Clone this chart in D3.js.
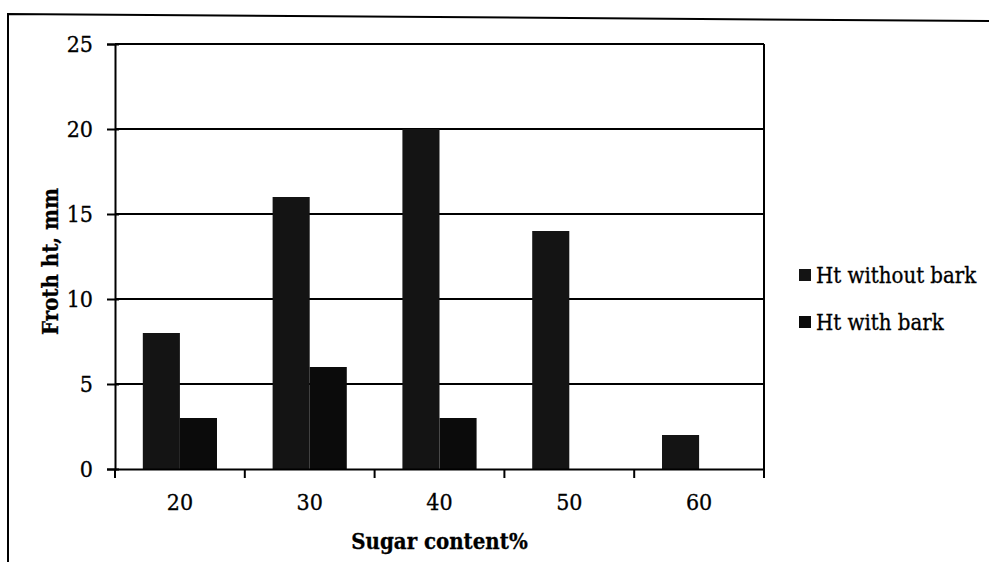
<!DOCTYPE html>
<html>
<head>
<meta charset="utf-8">
<script src="https://cdn.jsdelivr.net/npm/d3@7"></script>
<style>
  body { margin: 0; background: #fff; }
  svg { display: block; }
  svg text { font-family: "DejaVu Serif", serif; font-stretch: condensed; fill: #000; stroke: #000; stroke-width: 0.3px; }
</style>
</head>
<body>
<div id="chart"></div>
<script>
const categories = ['20', '30', '40', '50', '60'];
const seriesNames = ['Ht without bark', 'Ht with bark'];
const withoutBark = [8, 16, 20, 14, 2];
const withBark = [3, 6, 3, 0, 0];
const yTicks = [0, 5, 10, 15, 20, 25];

const width = 989;
const height = 562;
const plot = { left: 115, right: 764, top: 44, bottom: 469 };
const colors = ['#141414', '#0b0b0b'];
const serif = '"DejaVu Serif", serif';

const svg = d3.select('#chart')
  .append('svg')
  .attr('width', width)
  .attr('height', height);

// outer chart frame (scan is slightly tilted)
svg.append('path')
  .attr('d', 'M8,600 L8,14 L989,21')
  .style('fill', 'none')
  .style('stroke', '#000')
  .style('stroke-width', 2);

const x = d3.scaleBand()
  .domain(categories)
  .range([plot.left, plot.right]);

const x1 = d3.scaleBand()
  .domain(seriesNames)
  .range([0, x.bandwidth()])
  .paddingOuter(0.75);

const y = d3.scaleLinear()
  .domain([0, 25])
  .range([plot.bottom, plot.top]);

const g = svg.append('g');

// gridlines
g.selectAll('.grid')
  .data(yTicks.filter(d => d > 0))
  .enter().append('line')
  .attr('class', 'grid')
  .attr('x1', plot.left)
  .attr('x2', plot.right)
  .attr('y1', d => y(d))
  .attr('y2', d => y(d))
  .style('stroke', '#000')
  .style('stroke-width', 2);

// right edge of plot area
g.append('line')
  .attr('x1', plot.right)
  .attr('x2', plot.right)
  .attr('y1', plot.top)
  .attr('y2', plot.bottom)
  .style('stroke', '#000')
  .style('stroke-width', 2);

const rows = categories.map((c, i) => ({ cat: c, values: [withoutBark[i], withBark[i]] }));

const groups = g.selectAll('.cat')
  .data(rows)
  .enter().append('g')
  .attr('class', 'cat')
  .attr('transform', d => `translate(${x(d.cat)},0)`);

groups.selectAll('rect')
  .data(d => d.values.map((v, i) => ({ name: seriesNames[i], value: v, i })))
  .enter().append('rect')
  .filter(d => d.value > 0)
  .attr('x', d => x1(d.name))
  .attr('width', x1.bandwidth())
  .attr('y', d => y(d.value))
  .attr('height', d => y(0) - y(d.value))
  .style('fill', d => colors[d.i]);

// y axis
const yAxis = g.append('g')
  .attr('transform', `translate(${plot.left},0)`)
  .call(d3.axisLeft(y).tickValues(yTicks).tickSize(8).tickPadding(14));
yAxis.attr('font-family', serif);
yAxis.select('.domain').style('stroke-width', 2);
yAxis.selectAll('.tick line').style('stroke-width', 2).attr('x2', 4).attr('x1', -8);
yAxis.selectAll('.tick text')
  .style('font-size', '23px');

// x axis: ticks at category boundaries
const xAxis = g.append('g')
  .attr('transform', `translate(0,${plot.bottom})`)
  .call(d3.axisBottom(x).tickSize(0).tickPadding(25));
xAxis.attr('font-family', serif);
xAxis.select('.domain').style('stroke-width', 2);
xAxis.selectAll('.tick text')
  .style('font-size', '23px');

const bounds = categories.map(c => x(c)).concat([x.range()[1]]);
xAxis.selectAll('.bound')
  .data(bounds)
  .enter().append('line')
  .attr('class', 'bound')
  .attr('x1', d => d)
  .attr('x2', d => d)
  .attr('y1', 0)
  .attr('y2', 9)
  .style('stroke', '#000')
  .style('stroke-width', 2);

// axis titles
svg.append('text')
  .attr('x', (plot.left + plot.right) / 2)
  .attr('y', 549)
  .attr('text-anchor', 'middle')
  .style('font-size', '22px')
  .style('font-weight', 'bold')
  .text('Sugar content%');

svg.append('text')
  .attr('transform', `translate(58,${(plot.top + plot.bottom) / 2 + 5}) rotate(-90)`)
  .attr('text-anchor', 'middle')
  .style('font-size', '22px')
  .style('font-weight', 'bold')
  .text('Froth ht, mm');

// legend
const legend = svg.append('g')
  .attr('transform', 'translate(799,275)');

const items = legend.selectAll('.item')
  .data(seriesNames)
  .enter().append('g')
  .attr('class', 'item')
  .attr('transform', (d, i) => `translate(0,${i * 47})`);

items.append('rect')
  .attr('x', 0)
  .attr('y', -6)
  .attr('width', 12)
  .attr('height', 12)
  .style('fill', (d, i) => colors[i]);

items.append('text')
  .attr('x', 17)
  .attr('y', 8)
  .style('font-size', '22px')
  .text(d => d);
</script>
</body>
</html>
